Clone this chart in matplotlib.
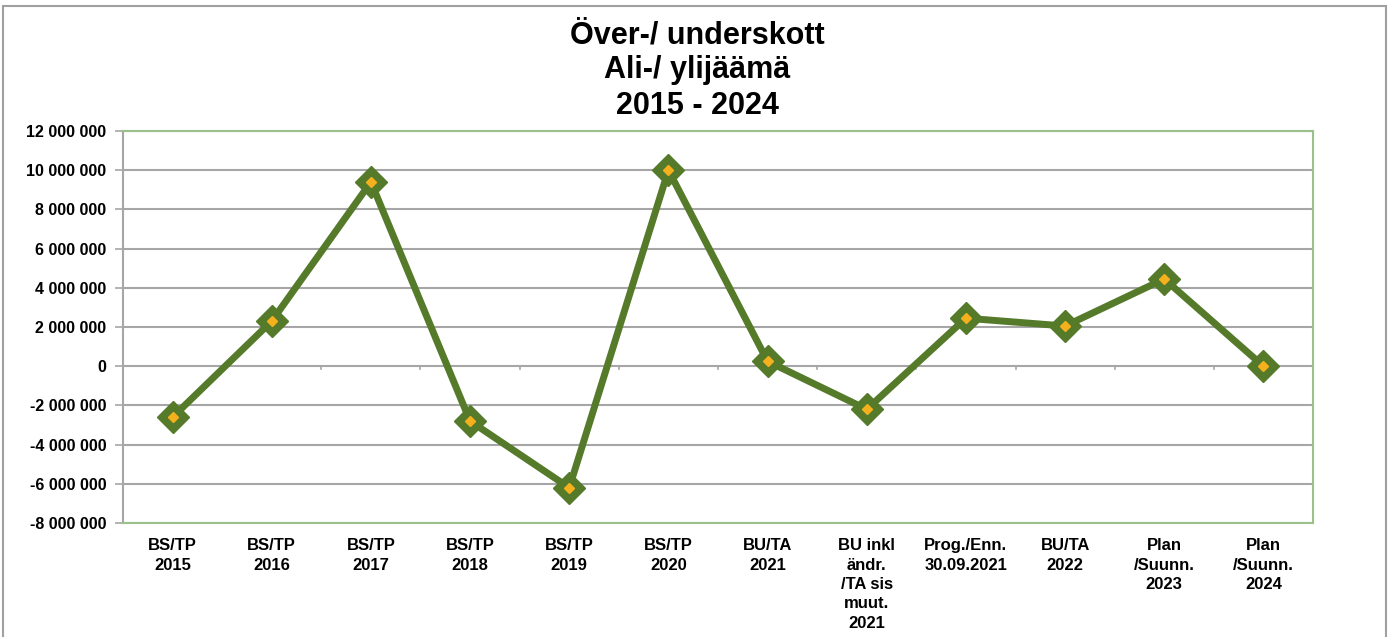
import matplotlib
matplotlib.use("Agg")
import matplotlib.pyplot as plt
from matplotlib.patches import Rectangle
from matplotlib.ticker import FuncFormatter, FixedLocator

categories = ["BS/TP\n2015", "BS/TP\n2016", "BS/TP\n2017", "BS/TP\n2018", "BS/TP\n2019",
              "BS/TP\n2020", "BU/TA\n2021", "BU inkl\nändr.\n/TA sis\nmuut.\n2021",
              "Prog./Enn.\n30.09.2021", "BU/TA\n2022", "Plan\n/Suunn.\n2023", "Plan\n/Suunn.\n2024"]
values = [-2600000, 2300000, 9400000, -2800000, -6200000, 10000000, 250000, -2200000,
          2450000, 2050000, 4450000, 0]
yticks = list(range(-8000000, 12000001, 2000000))
title = "Över-/ underskott\nAli-/ ylijäämä\n2015 - 2024"

plt.rcParams['font.family'] = ['Liberation Sans', 'DejaVu Sans']

fig = plt.figure(figsize=(13.93, 6.37), dpi=100)
ax = fig.add_axes([123/1393, 1 - 523/637, (1313-123)/1393, (523-131)/637])

x = list(range(len(categories)))
green = "#557A2A"
ax.plot(x, values, color=green, lw=5, solid_joinstyle='round', zorder=3)
ax.plot(x, values, ls='none', marker='D', ms=16, mfc=green, mec=green, zorder=4)
ax.plot(x, values, ls='none', marker='D', ms=5, mfc="#F5B01E", mec="#F5B01E", zorder=5)

ax.set_xlim(-0.5, len(categories) - 0.5)
ax.set_ylim(-8000000, 12000000)
ax.yaxis.set_major_locator(FixedLocator(yticks))
ax.yaxis.set_major_formatter(FuncFormatter(lambda v, p: f"{int(v):,}".replace(",", " ")))
ax.grid(axis='y', color='#A6A6A6', lw=1.5, zorder=1)
ax.set_axisbelow(True)

ax.set_xticks(x)
ax.set_xticklabels(categories, fontsize=12, fontweight='bold', va='top', linespacing=1.36)
ax.tick_params(axis='x', length=0, pad=11)
ax.tick_params(axis='y', length=6, color='#A6A6A6', width=1.2, labelsize=11.5, pad=6)
for lab in ax.get_yticklabels():
    lab.set_fontweight('bold')

# category tick marks on zero line
for b in range(1, len(categories)):
    ax.plot([b - 0.5, b - 0.5], [0, -150000], color='#A6A6A6', lw=1.2, zorder=2, clip_on=False)

for s in ['top', 'right', 'bottom']:
    ax.spines[s].set_color('#9BC08A')
    ax.spines[s].set_linewidth(1.5)
ax.spines['left'].set_color('#A6A6A6')
ax.spines['left'].set_linewidth(1.5)

fig.text(697/1393, 1 - 20/637, title, ha='center', va='top', fontsize=22,
         fontweight='bold', linespacing=1.23)

fig.patches.append(Rectangle((3/1393, -0.01), (1386-3)/1393, 1.0, transform=fig.transFigure,
                             fill=False, ec='#A0A0A0', lw=1.5))

fig.savefig("out.png", dpi=100)
